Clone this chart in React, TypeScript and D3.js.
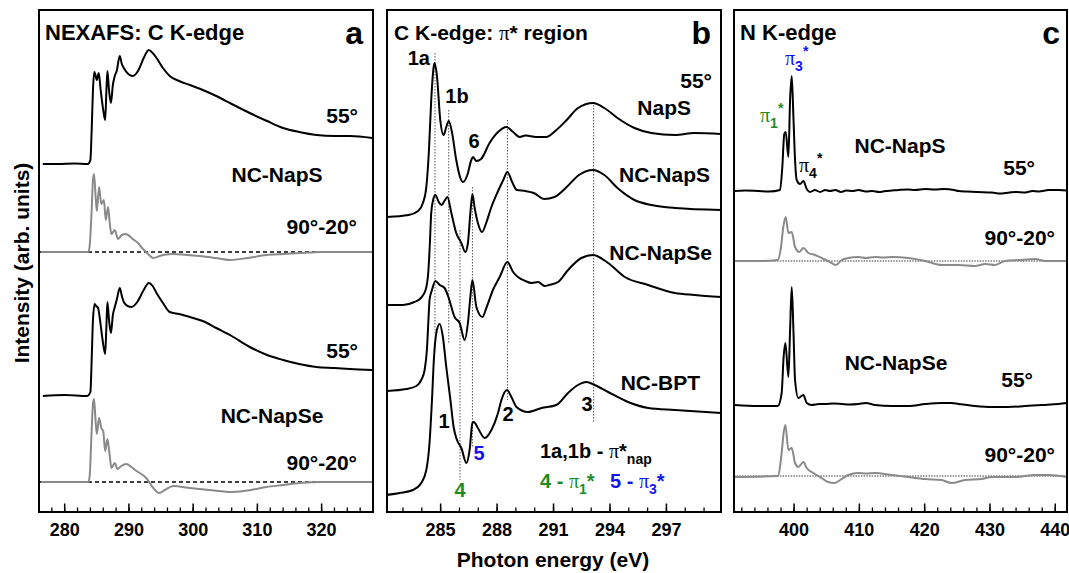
import React from 'react';
import * as d3 from 'd3';

type Pt = [number, number];

// ---- panel a: C K-edge overview (eV, intensity above the curve's own baseline)
const aNapS55: Pt[] = [
  [276.6, 0], [279, 0], [281.5, 0.05], [283.6, 0], [284.0, 0.4], [284.2, 3.4], [284.4, 7.4], [284.6, 9.2],
  [284.75, 9.0], [285.0, 8.4], [285.3, 9.1], [285.6, 7.4], [286.0, 5.4], [286.3, 4.4], [286.5, 7.4],
  [286.65, 9.3], [286.9, 7.4], [287.2, 6.1], [287.5, 7.9], [287.8, 8.8], [288.1, 9.3], [288.57, 10.8],
  [288.9, 10.0], [289.2, 9.6], [289.9, 9.0], [290.6, 8.8], [291.5, 9.4], [292.3, 10.6], [293.1, 11.4],
  [293.7, 11.1], [294.3, 10.6], [295.3, 9.6], [296.35, 8.8], [297.8, 8.3], [299.5, 7.9], [301.5, 7.4],
  [303.6, 6.8], [306, 6.0], [308.8, 5.1], [311.5, 4.3], [314, 3.6], [316.5, 3.2], [319.2, 2.9], [322, 2.8],
  [324.4, 2.8], [327.9, 2.6],
];
const aNapSDiff: Pt[] = [
  [276.3, 0], [283.7, 0], [283.9, 0.7], [284.2, 4.2], [284.4, 7.2], [284.57, 7.8], [284.8, 5.7], [285.0, 4.1],
  [285.35, 6.5], [285.7, 4.8], [286.1, 5.2], [286.4, 3.2], [286.75, 4.5], [287.0, 3.0], [287.27, 1.8],
  [287.8, 2.2], [288.3, 1.3], [288.9, 1.7], [289.5, 1.8], [290.6, 1.3], [291.4, 0.9], [292.2, 0.3],
  [293.0, -0.2], [293.75, -0.6], [295.3, -0.3], [296.9, -0.2], [299, -0.3], [301, -0.4], [303.5, -0.6],
  [305.7, -0.8], [308.5, -0.6], [311.4, -0.3], [314, -0.2], [316.6, -0.1], [320, 0], [327.9, 0],
];
const aNapSe55: Pt[] = [
  [276.6, 0], [280, 0.1], [283.5, 0], [284.0, 0.4], [284.2, 3.6], [284.4, 7.6], [284.67, 9.2], [284.9, 9.0],
  [285.2, 8.8], [285.5, 7.6], [285.9, 5.6], [286.3, 4.2], [286.5, 7.1], [286.65, 9.4], [286.9, 7.6],
  [287.2, 6.3], [287.5, 8.1], [287.8, 8.9], [288.1, 9.6], [288.57, 10.8], [288.9, 10.0], [289.2, 9.4],
  [289.8, 9.0], [290.4, 8.9], [291.3, 9.4], [292.3, 10.6], [293.1, 11.3], [293.7, 11.0], [294.3, 10.3],
  [295.3, 9.3], [296.35, 8.4], [297.8, 8.2], [299.5, 7.9], [301.5, 7.5], [303.6, 6.8], [306, 6.0],
  [308.8, 4.9], [311.5, 4.1], [314, 3.6], [316.5, 3.2], [319.2, 2.9], [322, 2.8], [324.4, 2.7], [327.9, 2.6],
];
const aNapSeDiff: Pt[] = [
  [276.3, 0], [283.7, 0], [283.9, 0.7], [284.2, 5.2], [284.4, 7.8], [284.57, 8.3], [284.8, 6.2], [285.0, 4.8],
  [285.35, 6.4], [285.7, 5.4], [286.0, 5.1], [286.3, 3.1], [286.65, 4.3], [287.0, 2.7], [287.27, 1.4],
  [287.8, 1.9], [288.2, 1.3], [288.8, 1.6], [289.6, 1.8], [290.4, 1.5], [291.2, 1.1], [292.7, 0.4],
  [293.8, -0.6], [294.7, -1.1], [295.6, -0.8], [296.9, -0.4], [299.5, -0.6], [302.5, -0.8], [306.2, -1.0],
  [309, -0.8], [311.4, -0.5], [314, -0.3], [316.6, -0.1], [320, 0], [327.9, 0],
];
const offsetsA = [34.8, 26.0, 11.6, 3.0];

// ---- panel b: pi* region
const bNapS: Pt[] = [
  [282.1, 0], [283.3, 0.2], [283.8, 0.6], [284.06, 1.4], [284.24, 3.0], [284.38, 6.7], [284.5, 11.7],
  [284.63, 15.0], [284.68, 15.4], [284.8, 14.2], [284.98, 9.7], [285.16, 8.2], [285.3, 9.0], [285.43, 9.6],
  [285.6, 8.5], [285.83, 5.7], [286.05, 3.9], [286.19, 3.5], [286.42, 4.2], [286.63, 5.7], [286.72, 6.0],
  [286.9, 5.6], [287.15, 5.8], [287.6, 7.4], [288.05, 8.5], [288.5, 9.0], [288.85, 8.5], [289.2, 8.0],
  [289.5, 8.15], [289.73, 8.1], [290.17, 8.0], [290.6, 8.0], [291.15, 8.7], [291.7, 9.7], [292.3, 10.9],
  [293.1, 11.4], [293.7, 10.9], [294.4, 9.9], [295.3, 8.9], [296.2, 8.4], [297.45, 8.2], [298.5, 8.4],
  [299.95, 8.3],
];
const bNcNapS: Pt[] = [
  [282.1, 0], [283.0, 0], [283.6, 0.3], [283.95, 0.7], [284.2, 1.5], [284.34, 3.2], [284.42, 5.8],
  [284.5, 9.2], [284.6, 10.5], [284.72, 11.0], [284.9, 10.3], [285.05, 10.0], [285.2, 10.4], [285.36, 10.8],
  [285.57, 9.2], [285.83, 7.2], [286.1, 6.2], [286.31, 5.3], [286.45, 6.2], [286.58, 9.2], [286.69, 11.1],
  [286.8, 9.8], [286.98, 8.2], [287.2, 7.3], [287.42, 8.2], [287.68, 9.7], [288.03, 11.3], [288.33, 12.5],
  [288.55, 13.3], [288.8, 12.3], [289.05, 11.5], [289.5, 11.4], [289.95, 11.2], [290.5, 10.6], [291.05, 10.8],
  [291.7, 11.8], [292.35, 13.0], [293.1, 13.5], [293.7, 13.0], [294.4, 11.7], [295.3, 10.5], [296.2, 10.0],
  [297.45, 9.7], [299.95, 9.5],
];
const bNcNapSe: Pt[] = [
  [282.1, 0], [283.18, 0.2], [283.71, 0.5], [283.97, 1.1], [284.15, 2.1], [284.27, 4.1], [284.36, 7.4],
  [284.41, 9.1], [284.54, 10.1], [284.72, 11.0], [284.95, 10.6], [285.21, 10.3], [285.43, 9.3],
  [285.74, 7.4], [286.01, 6.8], [286.28, 5.1], [286.45, 6.8], [286.58, 9.4], [286.69, 11.1], [286.9, 8.4],
  [287.22, 7.4], [287.43, 8.3], [287.78, 10.1], [288.14, 11.4], [288.55, 12.9], [288.85, 11.9],
  [289.11, 11.4], [289.5, 11.0], [289.82, 10.8], [290.18, 10.9], [290.53, 10.5], [290.75, 10.6],
  [291.24, 10.9], [291.77, 12.1], [292.48, 13.3], [293.1, 13.6], [293.9, 12.8], [294.79, 11.4],
  [296.03, 10.6], [297.45, 9.8], [298.5, 9.6], [299.95, 9.4],
];
const bNcBpt: Pt[] = [
  [282.1, 0], [282.82, 0.2], [283.53, 0.5], [283.97, 1.2], [284.24, 2.5], [284.41, 5.2], [284.54, 9.5],
  [284.64, 13.5], [284.77, 16.2], [284.95, 17.1], [285.12, 15.8], [285.3, 12.8], [285.52, 9.5],
  [285.69, 6.8], [285.87, 5.5], [286.1, 4.7], [286.37, 3.2], [286.54, 4.5], [286.69, 7.2], [286.76, 7.3],
  [286.98, 6.7], [287.34, 5.7], [287.7, 6.5], [288.05, 8.2], [288.23, 9.5], [288.53, 10.5], [288.76, 9.8],
  [289.03, 8.8], [289.64, 8.3], [290.36, 8.7], [291.15, 9.0], [291.77, 10.2], [292.3, 11.0], [292.75, 11.3],
  [293.19, 11.0], [293.9, 10.3], [294.96, 9.3], [296.03, 8.7], [297.45, 8.5], [299.95, 8.2],
];
const offsetsB = [29.5, 20.7, 12.1, 1.7];
// resonance positions (eV) with the span of each guide line
const resonances = [284.7, 285.43, 286.03, 286.69, 288.55, 293.13];
const resTop = [45.9, 40.2, 28.2, 32.5, 39.2, 41.0];
const resBottom = [17.9, 16.9, 3.2, 6.5, 11.2, 8.9];

// ---- panel c: N K-edge
const cNapS55: Pt[] = [
  [390.9, 0], [392.5, 0.05], [394.5, 0], [396.2, -0.05], [397.85, 0.1], [398.2, 2.4], [398.5, 5.7],
  [398.72, 5.9], [399.13, 3.4], [399.39, 9.1], [399.64, 11.5], [399.9, 7.4], [400.15, 3.1], [400.4, 1.1],
  [400.92, 0.7], [401.43, 1.0], [401.94, 0.2], [402.45, -0.1], [403.2, 0.1], [404.0, -0.1], [404.75, 0.1],
  [405.5, 0], [406.3, 0.1], [407.2, -0.1], [408, 0.05], [409, 0], [409.85, 0.1], [411, -0.05], [412, 0],
  [413, -0.1], [414, 0], [415, 0.05], [416, 0.1], [417.5, 0.15], [418.5, 0.1], [420.1, 0.2], [421.5, 0.15],
  [423, 0.2], [424.5, 0.1], [425.2, 0], [426.5, -0.05], [428, -0.1], [430.3, -0.15], [431.5, -0.25],
  [433, -0.15], [434, -0.1], [435.4, -0.15], [436.5, 0], [437.5, -0.05], [439, 0.1], [440.5, 0.1], [441.9, 0.05],
];
const cNapSDiff: Pt[] = [
  [390.9, 0], [394.5, 0], [397.5, 0.1], [398.0, 1.4], [398.35, 3.4], [398.72, 4.4], [399.13, 2.8],
  [399.64, 2.9], [400.15, 1.4], [400.8, 0.9], [401.43, 1.3], [402.2, 0.8], [403.2, 0.6], [404.2, 0.3],
  [405.2, 0], [406.4, -0.4], [407.3, 0.1], [408.3, 0.3], [409.85, 0.4], [411, 0.3], [412.4, 0.4], [413.7, 0.35],
  [415, 0.4], [417.5, 0.3], [420.1, 0], [422.6, -0.4], [425.2, -0.4], [427.7, -0.5], [429.3, -0.3],
  [430.8, -0.4], [432.3, 0], [434.4, 0.1], [436.9, 0.2], [438.5, 0], [441.9, 0],
];
const cNapSe55: Pt[] = [
  [390.9, 0], [394.5, -0.1], [397.5, -0.1], [398.1, 1.2], [398.4, 4.8], [398.67, 6.2], [399.13, 2.8],
  [399.39, 7.5], [399.64, 11.8], [399.9, 7.5], [400.15, 2.5], [400.66, 0.7], [401.43, 1.0], [401.94, 0.2],
  [402.7, 0], [403.8, 0.1], [404.75, 0.1], [406, 0.15], [407.3, 0.1], [408.5, 0.05], [409.85, 0.1],
  [411, 0.2], [412.4, 0], [415, -0.1], [417.5, -0.1], [420.1, 0.1], [422.6, 0.2], [424.1, 0.2], [425.2, 0.1],
  [427.7, -0.1], [430.3, -0.2], [432.8, -0.2], [435.4, -0.1], [438, 0], [440.5, 0.1], [441.9, 0.2],
];
const cNapSeDiff: Pt[] = [
  [390.9, -0.1], [397.5, 0], [398.1, 2.3], [398.4, 4.3], [398.67, 5.1], [399.13, 2.6], [399.64, 2.8],
  [400.15, 1.3], [400.66, 0.9], [401.43, 1.4], [401.94, 0.8], [402.96, 0.3], [404.2, -0.2], [405.2, -0.6],
  [406.2, -0.7], [407.3, -0.3], [408.3, 0.1], [409.85, 0.3], [411, 0.25], [412.4, 0.3], [415, 0.1],
  [417.5, -0.1], [420.1, -0.3], [422.6, -0.4], [424.1, -0.7], [426.2, -0.4], [428.7, -0.3], [430.3, -0.1],
  [433.9, -0.1], [436.9, 0.1], [438.9, 0.1], [441.9, -0.1],
];
const offsetsC = [32.1, 25.1, 10.7, 3.6];

// ---- axes
const ticksA = [280, 290, 300, 310, 320];
const ticksB = [285, 288, 291, 294, 297];
const ticksC = [400, 410, 420, 430, 440];
const minorA = d3.range(278, 328, 2);
const minorB = d3.range(283, 300, 1);
const minorC = d3.range(392, 442, 2);

const SANS = "'Liberation Sans', Arial, Helvetica, sans-serif";
const SERIF = "'Liberation Serif', 'Times New Roman', serif";
const GREEN = '#1e8c1e';
const BLUE = '#1414f0';
const GRAY = '#8a8a8a';

const TOP = 10;
const BOTTOM = 512;
const y = d3.scaleLinear().domain([0, 50.2]).range([BOTTOM, TOP]);

const xa = d3.scaleLinear().domain([276, 328]).range([39, 373]);
const xb = d3.scaleLinear().domain([282.15, 299.9]).range([387, 721]);
const xc = d3.scaleLinear().domain([390.8, 441.8]).range([734, 1067]);

const path = (x: d3.ScaleLinear<number, number>, data: Pt[], off: number) =>
  d3.line<Pt>().x(d => x(d[0])).y(d => y(d[1] + off)).curve(d3.curveMonotoneX)(data) || '';

type Part = { t: string; serif?: boolean; sub?: boolean; sup?: boolean };

const Rich = ({ x, yy, parts, size = 20, fill = '#000', anchor = 'start' }:
  { x: number; yy: number; parts: Part[]; size?: number; fill?: string; anchor?: string }) => {
  let shift = 0;
  return (
    <text x={x} y={yy} fontFamily={SANS} fontWeight="bold" fontSize={size} fill={fill} textAnchor={anchor as any}>
      {parts.map((p, i) => {
        const target = p.sub ? 6 : p.sup ? -9 : 0;
        const dy = target - shift;
        shift = target;
        return (
          <tspan key={i} dy={dy} fontFamily={p.serif ? SERIF : SANS} fontWeight={p.serif ? 'normal' : 'bold'}
            fontSize={p.sub || p.sup ? size * 0.7 : size}>{p.t}</tspan>
        );
      })}
    </text>
  );
};

const Label = ({ x, yy, t, size = 21, anchor = 'end', fill = '#000' }:
  { x: number; yy: number; t: string; size?: number; anchor?: string; fill?: string }) => (
  <text x={x} y={yy} fontFamily={SANS} fontWeight="bold" fontSize={size} fill={fill} textAnchor={anchor as any}>{t}</text>
);

const Panel = ({ id, x, majors, minors, children }:
  { id: string; x: d3.ScaleLinear<number, number>; majors: number[]; minors: number[]; children: React.ReactNode }) => {
  const [x0, x1] = x.range();
  return (
    <g>
      <defs>
        <clipPath id={id}><rect x={x0} y={TOP} width={x1 - x0} height={BOTTOM - TOP} /></clipPath>
      </defs>
      <g clipPath={`url(#${id})`}>{children}</g>
      {minors.map(t => (
        <line key={'m' + t} x1={x(t)} x2={x(t)} y1={BOTTOM} y2={BOTTOM - 4.5} stroke="#000" strokeWidth={1.3} />
      ))}
      {majors.map(t => (
        <g key={t}>
          <line x1={x(t)} x2={x(t)} y1={BOTTOM} y2={BOTTOM - 8.5} stroke="#000" strokeWidth={1.5} />
          <text x={x(t)} y={536} textAnchor="middle" fontFamily={SANS} fontWeight="bold" fontSize={18}>{t}</text>
        </g>
      ))}
      <rect x={x0} y={TOP} width={x1 - x0} height={BOTTOM - TOP} fill="none" stroke="#000" strokeWidth={2} />
    </g>
  );
};

export default function App() {
  const [ax0, ax1] = xa.range();
  const [cx0, cx1] = xc.range();
  return (
    <svg width={1069} height={573} style={{ position: 'absolute', left: 0, top: 0, background: '#fff' }}>
      <rect width={1069} height={573} fill="#fff" />

      {/* panel a */}
      <Panel id="clipA" x={xa} majors={ticksA} minors={minorA}>
        <line x1={ax0} x2={ax1} y1={y(offsetsA[1])} y2={y(offsetsA[1])} stroke="#000" strokeWidth={1.5} strokeDasharray="4,3" />
        <line x1={ax0} x2={ax1} y1={y(offsetsA[3])} y2={y(offsetsA[3])} stroke="#000" strokeWidth={1.5} strokeDasharray="4,3" />
        <path d={path(xa, aNapS55, offsetsA[0])} fill="none" stroke="#000" strokeWidth={2} />
        <path d={path(xa, aNapSDiff, offsetsA[1])} fill="none" stroke={GRAY} strokeWidth={2} />
        <path d={path(xa, aNapSe55, offsetsA[2])} fill="none" stroke="#000" strokeWidth={2} />
        <path d={path(xa, aNapSeDiff, offsetsA[3])} fill="none" stroke={GRAY} strokeWidth={2} />
      </Panel>
      <Label x={45} yy={40} t="NEXAFS: C K-edge" size={22} anchor="start" />
      <Label x={363} yy={44} t="a" size={32} />
      <Label x={358} yy={123} t="55°" />
      <Label x={277} yy={182} t="NC-NapS" anchor="middle" />
      <Label x={357} yy={234} t="90°-20°" />
      <Label x={358} yy={358} t="55°" />
      <Label x={272} yy={423} t="NC-NapSe" anchor="middle" />
      <Label x={357} yy={470} t="90°-20°" />

      {/* panel b */}
      <Panel id="clipB" x={xb} majors={ticksB} minors={minorB}>
        {resonances.map((e, i) => (
          <line key={e} x1={xb(e)} x2={xb(e)} y1={y(resTop[i])} y2={y(resBottom[i])}
            stroke="#555" strokeWidth={1} strokeDasharray="1.5,1.5" />
        ))}
        <path d={path(xb, bNapS, offsetsB[0])} fill="none" stroke="#000" strokeWidth={2} />
        <path d={path(xb, bNcNapS, offsetsB[1])} fill="none" stroke="#000" strokeWidth={2} />
        <path d={path(xb, bNcNapSe, offsetsB[2])} fill="none" stroke="#000" strokeWidth={2} />
        <path d={path(xb, bNcBpt, offsetsB[3])} fill="none" stroke="#000" strokeWidth={2} />
      </Panel>
      <Rich x={394} yy={40} size={21} parts={[{ t: 'C K-edge: ' }, { t: 'π', serif: true }, { t: '* region' }]} />
      <Label x={711} yy={44} t="b" size={32} />
      <Label x={430} yy={65} t="1a" size={20} />
      <Label x={457} yy={103} t="1b" size={20} anchor="middle" />
      <Label x={474} yy={148} t="6" size={20} anchor="middle" />
      <Label x={712} yy={88} t="55°" />
      <Label x={691} yy={115} t="NapS" />
      <Label x={710} yy={182} t="NC-NapS" />
      <Label x={712} yy={260} t="NC-NapSe" />
      <Label x={700} yy={390} t="NC-BPT" />
      <Label x={444} yy={428} t="1" size={20} anchor="middle" />
      <Label x={508} yy={421} t="2" size={20} anchor="middle" />
      <Label x={587} yy={411} t="3" size={20} anchor="middle" />
      <Label x={479} yy={460} t="5" size={20} anchor="middle" fill={BLUE} />
      <Label x={460} yy={497} t="4" size={20} anchor="middle" fill={GREEN} />
      <Rich x={540} yy={458} parts={[{ t: '1a,1b - ' }, { t: 'π', serif: true }, { t: '*' }, { t: 'nap', sub: true }]} />
      <Rich x={540} yy={488} fill={GREEN} parts={[{ t: '4 - ' }, { t: 'π', serif: true }, { t: '1', sub: true }, { t: '*' }]} />
      <Rich x={610} yy={488} fill={BLUE} parts={[{ t: '5 - ' }, { t: 'π', serif: true }, { t: '3', sub: true }, { t: '*' }]} />

      {/* panel c */}
      <Panel id="clipC" x={xc} majors={ticksC} minors={minorC}>
        <line x1={cx0} x2={cx1} y1={y(offsetsC[1])} y2={y(offsetsC[1])} stroke="#222" strokeWidth={0.9} strokeDasharray="1.5,1.2" />
        <line x1={cx0} x2={cx1} y1={y(offsetsC[3])} y2={y(offsetsC[3])} stroke="#222" strokeWidth={0.9} strokeDasharray="1.5,1.2" />
        <path d={path(xc, cNapS55, offsetsC[0])} fill="none" stroke="#000" strokeWidth={2} />
        <path d={path(xc, cNapSDiff, offsetsC[1])} fill="none" stroke={GRAY} strokeWidth={2} />
        <path d={path(xc, cNapSe55, offsetsC[2])} fill="none" stroke="#000" strokeWidth={2} />
        <path d={path(xc, cNapSeDiff, offsetsC[3])} fill="none" stroke={GRAY} strokeWidth={2} />
      </Panel>
      <Label x={740} yy={40} t="N K-edge" size={22} anchor="start" />
      <Label x={1060} yy={44} t="c" size={32} />
      <Rich x={785} yy={65} fill={BLUE} parts={[{ t: 'π', serif: true }, { t: '3', sub: true }, { t: '*', sup: true }]} />
      <Rich x={760} yy={122} fill={GREEN} parts={[{ t: 'π', serif: true }, { t: '1', sub: true }, { t: '*', sup: true }]} />
      <Rich x={799} yy={172} parts={[{ t: 'π', serif: true }, { t: '4', sub: true }, { t: '*', sup: true }]} />
      <Label x={900} yy={153} t="NC-NapS" anchor="middle" />
      <Label x={1035} yy={175} t="55°" />
      <Label x={1055} yy={245} t="90°-20°" />
      <Label x={896} yy={370} t="NC-NapSe" anchor="middle" />
      <Label x={1033} yy={387} t="55°" />
      <Label x={1055} yy={462} t="90°-20°" />

      {/* axis titles */}
      <text transform="translate(29,263) rotate(-90)" textAnchor="middle" fontFamily={SANS} fontWeight="bold" fontSize={21}>
        Intensity (arb. units)
      </text>
      <text x={553} y={567} textAnchor="middle" fontFamily={SANS} fontWeight="bold" fontSize={21}>
        Photon energy (eV)
      </text>
    </svg>
  );
}
